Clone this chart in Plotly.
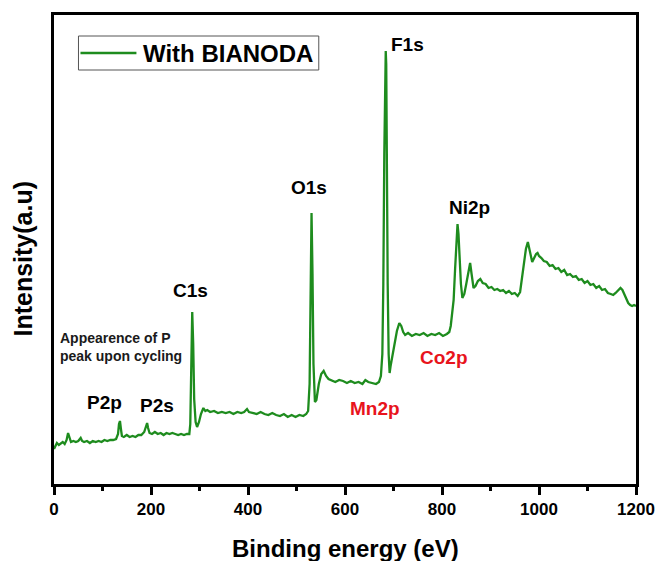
import plotly.graph_objects as go

# XPS survey spectrum (binding energy in eV, intensity in arbitrary units)
energy = [
    0, 3, 6, 10, 14, 18, 22, 26, 29, 32, 35, 40, 45, 50, 55, 58, 62, 68, 74, 80,
    86, 92, 98, 104, 110, 116, 122, 128, 132, 134, 136, 138, 140, 144, 150, 156,
    162, 168, 174, 180, 186, 190, 192, 194, 197, 202, 208, 214, 220, 226, 232,
    238, 244, 250, 256, 262, 268, 274, 279, 281, 283, 285, 287, 289, 292, 295,
    299, 303, 308, 312, 316, 322, 330, 338, 346, 354, 362, 370, 378, 386, 392,
    398, 402, 410, 418, 426, 434, 442, 450, 458, 466, 474, 482, 490, 498, 506,
    514, 520, 524, 527, 529, 531, 533, 535, 538, 541, 546, 551, 556, 561, 566,
    572, 580, 588, 596, 604, 612, 620, 628, 636, 642, 648, 656, 664, 670, 674,
    677, 679, 681, 683, 684, 685, 686, 688, 690, 692, 694, 698, 702, 707, 712,
    716, 720, 724, 730, 738, 746, 754, 762, 770, 778, 786, 794, 802, 810, 815,
    818, 821, 824, 827, 830, 832, 834, 836, 839, 842, 846, 850, 854, 858, 861,
    865, 869, 874, 879, 884, 890, 896, 902, 908, 914, 920, 926, 932, 938, 944,
    950, 956, 961, 965, 969, 973, 977, 980, 983, 986, 990, 994, 997, 1000, 1005,
    1010, 1016, 1022, 1028, 1034, 1040, 1046, 1052, 1058, 1064, 1070, 1076, 1082,
    1088, 1094, 1100, 1106, 1112, 1118, 1124, 1130, 1136, 1142, 1148, 1153, 1158,
    1163, 1168, 1172, 1176, 1180, 1184, 1188, 1192, 1196, 1200,
]
intensity = [
    35, 38, 41, 39, 41, 42, 40, 44, 51, 46, 42, 43, 42, 43, 46, 43, 42, 43, 41, 43,
    42, 43, 42, 44, 43, 44, 44, 45, 50, 60, 63, 55, 48, 47, 49, 47,
    48, 47, 49, 49, 52, 58, 61, 56, 51, 50, 52, 50, 51, 49, 51,
    50, 51, 50, 49, 50, 49, 50, 50, 60, 120, 172, 140, 85, 62, 57,
    62, 70, 76, 73, 74, 72, 73, 71, 72, 71, 72, 70, 72, 71, 72,
    75, 72, 71, 70, 72, 70, 69, 71, 69, 68, 70, 67, 69, 67, 69,
    68, 70, 73, 100, 200, 271, 210, 120, 82, 84, 100, 110, 113, 108, 105,
    104, 102, 104, 103, 101, 103, 101, 102, 100, 104, 102, 101, 100, 102, 108,
    130, 200, 330, 410, 433, 420, 330, 200, 130, 111, 118, 130, 140, 153, 161,
    158, 152, 149, 151, 148, 150, 149, 151, 148, 150, 149, 151, 148, 150, 152,
    158, 170, 184, 215, 252, 260, 250, 225, 200, 186, 190, 200, 212, 221, 210,
    196, 198, 203, 205, 201, 200, 196, 197, 194, 195, 193, 194, 191, 193, 190,
    191, 188, 192, 205, 220, 235, 242, 235, 226, 222, 226, 230, 231, 228, 226,
    223, 222, 218, 219, 215, 216, 212, 214, 209, 210, 207, 208, 204,
    205, 201, 203, 199, 200, 196, 198, 194, 195, 191, 190, 189, 191,
    194, 196, 194, 190, 185, 181, 179, 178, 179, 178,
]

# Peak assignments: label, position (eV, intensity) and colour
peak_labels = ["F1s", "O1s", "Ni2p", "C1s", "P2p", "P2s", "Mn2p", "Co2p"]
peak_x = [728, 526, 856, 281, 104, 213, 662, 805]
peak_y = [440, 297, 277, 194, 82, 79, 76, 127]
peak_colors = ["black", "black", "black", "black", "black", "black", "#e8141c", "#e8141c"]

note_text = "Appearence of P<br>peak upon cycling"
series_name = "With BIANODA"
x_ticks = [0, 200, 400, 600, 800, 1000, 1200]

GREEN = "#1e8c1e"
FONT = "Arial, Liberation Sans, sans-serif"

# plot area in pixels
L, R, T, B = 53.5, 636, 15, 484
PW, PH = R - L, B - T


def px(x):
    return (x - L) / PW


def py(y):
    return (B - y) / PH


fig = go.Figure()
fig.add_trace(go.Scatter(
    x=energy, y=intensity, mode="lines", name=series_name,
    line=dict(color=GREEN, width=2.3), showlegend=False,
))

for lab, ex, ey, col in zip(peak_labels, peak_x, peak_y, peak_colors):
    fig.add_annotation(
        x=ex, y=ey, xref="x", yref="y", text=lab, showarrow=False,
        xanchor="center", yanchor="middle",
        font=dict(family=FONT, size=19, color=col, weight="bold"),
    )

fig.add_annotation(
    x=9, y=137, xref="x", yref="y", text=note_text, showarrow=False,
    xanchor="left", yanchor="middle", align="left",
    font=dict(family=FONT, size=14, color="#1a1a1a", weight="bold"),
)

# Legend box
fig.add_shape(type="rect", xref="paper", yref="paper",
              x0=px(78), x1=px(318.5), y0=py(70), y1=py(36),
              line=dict(color="#555555", width=1), fillcolor="white")
fig.add_shape(type="line", xref="paper", yref="paper",
              x0=px(80), x1=px(136), y0=py(53), y1=py(53),
              line=dict(color=GREEN, width=2.5))
fig.add_annotation(
    x=px(141), y=py(53.5), xref="paper", yref="paper",
    text=series_name, showarrow=False, xanchor="left", yanchor="middle",
    font=dict(family=FONT, size=24, color="black", weight="bold"),
)

# Axis titles
fig.add_annotation(
    x=px(345.5), y=py(548), xref="paper", yref="paper",
    text="Binding energy (eV)", showarrow=False,
    xanchor="center", yanchor="middle",
    font=dict(family=FONT, size=24, color="black", weight="bold"),
)
fig.add_annotation(
    x=px(22), y=py(259), xref="paper", yref="paper",
    text="Intensity(a.u)", showarrow=False, textangle=-90,
    xanchor="center", yanchor="middle",
    font=dict(family=FONT, size=25, color="black", weight="bold"),
)

fig.update_layout(
    width=657, height=561,
    margin=dict(l=L, r=657 - R, t=T, b=561 - B),
    plot_bgcolor="white", paper_bgcolor="white",
)
fig.update_xaxes(
    range=[0, 1200], tickvals=x_ticks, ticks="outside", ticklen=8, tickwidth=2.5,
    tickcolor="black", showline=True, linecolor="black", linewidth=3, mirror=True,
    showgrid=False, zeroline=False, automargin=False,
    tickfont=dict(family=FONT, size=17, color="black", weight="bold"),
    minor=dict(dtick=100, ticks="outside", ticklen=4, tickwidth=2.5, tickcolor="black"),
)
fig.update_yaxes(
    range=[0, 469], showticklabels=False, ticks="", showline=True,
    linecolor="black", linewidth=3, mirror=True, showgrid=False, zeroline=False,
    automargin=False,
)

fig.write_html("out.html")
